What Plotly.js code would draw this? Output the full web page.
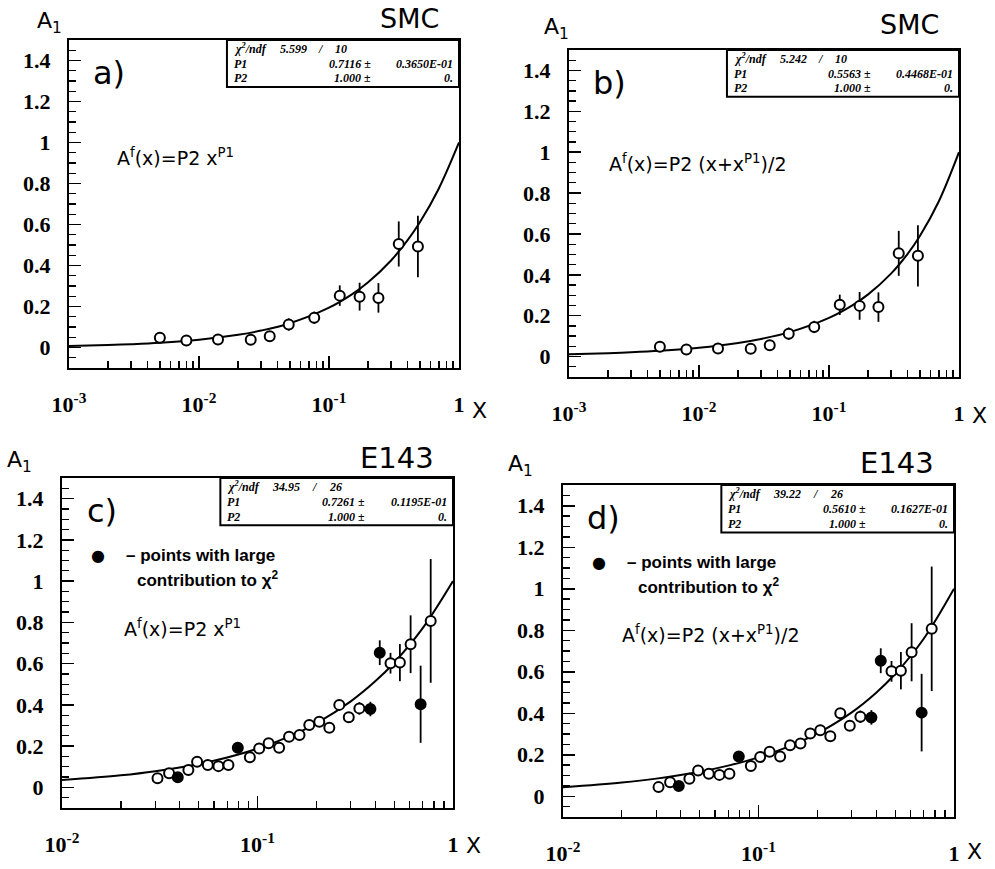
<!DOCTYPE html>
<html><head><meta charset="utf-8">
<script src="https://cdn.plot.ly/plotly-3.0.1.min.js"></script>
<style>html,body{margin:0;padding:0;background:#fff}#chart{width:995px;height:869px}</style>
</head><body><div id="chart"></div>
<script>
// ---------- SMC data (panels a, b) ----------
const smcX   = [0.005, 0.008, 0.014, 0.025, 0.035, 0.049, 0.077, 0.121, 0.172, 0.240, 0.344, 0.483];
const smcY   = [0.048, 0.034, 0.039, 0.038, 0.055, 0.112, 0.145, 0.253, 0.248, 0.242, 0.505, 0.493];
const smcErr = [0.012, 0.010, 0.010, 0.015, 0.022, 0.030, 0.030, 0.050, 0.068, 0.072, 0.110, 0.150];

// ---------- E143 data (panels c, d) ----------
const e143OpenX   = [0.0308, 0.0353, 0.0443, 0.0491, 0.0557, 0.0631, 0.0710, 0.0914, 0.102, 0.114, 0.129, 0.145, 0.164, 0.184, 0.207, 0.233, 0.262, 0.293, 0.332, 0.479, 0.535, 0.607, 0.769];
const e143OpenY   = [0.044, 0.068, 0.084, 0.124, 0.108, 0.103, 0.108, 0.146, 0.189, 0.214, 0.192, 0.246, 0.254, 0.302, 0.318, 0.289, 0.400, 0.340, 0.383, 0.602, 0.605, 0.694, 0.807];
const e143OpenErr = [0.010, 0.010, 0.010, 0.010, 0.010, 0.010, 0.010, 0.010, 0.010, 0.012, 0.012, 0.015, 0.015, 0.015, 0.020, 0.020, 0.020, 0.025, 0.030, 0.050, 0.090, 0.140, 0.300];
const e143FullX   = [0.0391, 0.0793, 0.378, 0.422, 0.683];
const e143FullY   = [0.049, 0.192, 0.380, 0.653, 0.403];
const e143FullErr = [0.010, 0.010, 0.035, 0.060, 0.187];

// ---------- fit curves ----------
const fitSmcX = [0.001, 0.002, 0.003, 0.005, 0.01, 0.02, 0.03, 0.05, 0.1, 0.15, 0.2, 0.3, 0.4, 0.5, 0.7, 1.0];
const fitAY   = [0.0073, 0.0120, 0.0160, 0.0230, 0.0377, 0.0618, 0.0825, 0.1186, 0.1943, 0.2593, 0.3181, 0.4245, 0.5210, 0.6107, 0.7758, 1.0];
const fitBY   = [0.0112, 0.0168, 0.0213, 0.0288, 0.0436, 0.0667, 0.0861, 0.1195, 0.1889, 0.2490, 0.3043, 0.4059, 0.5004, 0.5900, 0.7600, 1.0];
const fitE143X = [0.01, 0.02, 0.03, 0.05, 0.07, 0.1, 0.15, 0.2, 0.3, 0.4, 0.5, 0.7, 1.0];
const fitCY    = [0.0353, 0.0584, 0.0784, 0.1136, 0.1450, 0.1879, 0.2522, 0.3108, 0.4172, 0.5141, 0.6045, 0.7718, 1.0];
const fitDY    = [0.0428, 0.0657, 0.0849, 0.1182, 0.1475, 0.1874, 0.2475, 0.3027, 0.4045, 0.4991, 0.5890, 0.7593, 1.0];

// ---------- tick labels ----------
const yTickVals = [0, 0.2, 0.4, 0.6, 0.8, 1, 1.2, 1.4];
const yTickText = ['0', '0.2', '0.4', '0.6', '0.8', '1', '1.2', '1.4'];
const xTickValsSmc = [0.001, 0.01, 0.1, 1];
const xTickTextSmc = ['10<sup>-3</sup>', '10<sup>-2</sup>', '10<sup>-1</sup>', '1'];
const xTickValsE143 = [0.01, 0.1, 1];
const xTickTextE143 = ['10<sup>-2</sup>', '10<sup>-1</sup>', '1'];

// ---------- stat boxes and texts ----------
const panelLetters = ['a)', 'b)', 'c)', 'd)'];
const expTitles = ['SMC', 'SMC', 'E143', 'E143'];
const chi2 = ['5.599', '5.242', '34.95', '39.22'];
const ndf = ['10', '10', '26', '26'];
const p1 = ['0.7116', '0.5563', '0.7261', '0.5610'];
const p1err = ['0.3650E-01', '0.4468E-01', '0.1195E-01', '0.1627E-01'];
const p2 = ['1.000', '1.000', '1.000', '1.000'];
const p2err = ['0.', '0.', '0.', '0.'];
const formulas = ['A<sup>f</sup>(x)=P2 x<sup>P1</sup>', 'A<sup>f</sup>(x)=P2 (x+x<sup>P1</sup>)/2',
                  'A<sup>f</sup>(x)=P2 x<sup>P1</sup>', 'A<sup>f</sup>(x)=P2 (x+x<sup>P1</sup>)/2'];

const W = 995, H = 869;
const BLACK = '#000';
const SANS = 'DejaVu Sans';
const SERIF = 'Liberation Serif';

function logMinor(lo, hi) {
  const v = [];
  for (let e = lo; e < hi; e++) for (let m = 2; m <= 9; m++) v.push(m * Math.pow(10, e));
  return v;
}

function xAxis(dom, rng, tv, tt, minor, anchor) {
  return {
    type: 'log', domain: dom, range: rng, anchor: anchor,
    tickmode: 'array', tickvals: tv, ticktext: tt,
    ticks: 'inside', ticklen: 12, tickwidth: 1.5, tickcolor: BLACK,
    minor: {tickmode: 'array', tickvals: minor, ticks: 'inside', ticklen: 7, tickwidth: 1.3, tickcolor: BLACK, showgrid: false},
    showline: true, linewidth: 2, linecolor: BLACK, mirror: true,
    showgrid: false, zeroline: false, fixedrange: true,
    tickfont: {family: SERIF, size: 22, weight: 'bold', color: BLACK},
    ticklabelstandoff: 16
  };
}
function yAxis(dom, anchor) {
  return {
    domain: dom, range: [-0.1, 1.5], anchor: anchor,
    tickmode: 'array', tickvals: yTickVals, ticktext: yTickText,
    ticks: 'inside', ticklen: 12, tickwidth: 1.5, tickcolor: BLACK,
    minor: {dtick: 0.05, tick0: 0, ticks: 'inside', ticklen: 7, tickwidth: 1.3, tickcolor: BLACK, showgrid: false},
    showline: true, linewidth: 2, linecolor: BLACK, mirror: true,
    showgrid: false, zeroline: false, fixedrange: true,
    tickfont: {family: SERIF, size: 22, weight: 'bold', color: BLACK},
    ticklabelstandoff: 12
  };
}

// panel frames in pixels: [left, right, top, bottom]
const frames = [[69, 459, 40, 368], [569, 959, 50, 377], [62, 453, 478, 808], [563, 954, 485, 817]];
const dx = f => [f[0] / W, f[1] / W];
const dy = f => [1 - f[3] / H, 1 - f[2] / H];

const layout = {
  width: W, height: H, margin: {l: 0, r: 0, t: 0, b: 0},
  paper_bgcolor: '#fff', plot_bgcolor: '#fff', showlegend: false,
  xaxis:  xAxis(dx(frames[0]), [-3, 0], xTickValsSmc, xTickTextSmc, logMinor(-3, 0), 'y'),
  yaxis:  yAxis(dy(frames[0]), 'x'),
  xaxis2: xAxis(dx(frames[1]), [-3, 0], xTickValsSmc, xTickTextSmc, logMinor(-3, 0), 'y2'),
  yaxis2: yAxis(dy(frames[1]), 'x2'),
  xaxis3: xAxis(dx(frames[2]), [-2, 0], xTickValsE143, xTickTextE143, logMinor(-2, 0), 'y3'),
  yaxis3: yAxis(dy(frames[2]), 'x3'),
  xaxis4: xAxis(dx(frames[3]), [-2, 0], xTickValsE143, xTickTextE143, logMinor(-2, 0), 'y4'),
  yaxis4: yAxis(dy(frames[3]), 'x4'),
  shapes: [], annotations: []
};

const axIds = [['x', 'y'], ['x2', 'y2'], ['x3', 'y3'], ['x4', 'y4']];
const traces = [];

function curve(xs, ys, k) {
  traces.push({x: xs, y: ys, xaxis: axIds[k][0], yaxis: axIds[k][1], type: 'scatter', mode: 'lines',
    line: {color: BLACK, width: 2, shape: 'spline'}, hoverinfo: 'skip'});
}
function points(xs, ys, es, k, filled) {
  traces.push({x: xs, y: ys, xaxis: axIds[k][0], yaxis: axIds[k][1], type: 'scatter', mode: 'markers',
    error_y: {type: 'data', array: es, visible: true, color: BLACK, thickness: 1.8, width: 0},
    marker: {symbol: 'circle', size: 10, color: filled ? BLACK : '#fff', line: {color: BLACK, width: 2}}});
}

curve(fitSmcX, fitAY, 0); points(smcX, smcY, smcErr, 0, false);
curve(fitSmcX, fitBY, 1); points(smcX, smcY, smcErr, 1, false);
curve(fitE143X, fitCY, 2); points(e143OpenX, e143OpenY, e143OpenErr, 2, false); points(e143FullX, e143FullY, e143FullErr, 2, true);
curve(fitE143X, fitDY, 3); points(e143OpenX, e143OpenY, e143OpenErr, 3, false); points(e143FullX, e143FullY, e143FullErr, 3, true);

function ann(text, x, y, font, xanchor, yanchor) {
  layout.annotations.push({text: text, x: x / W, y: 1 - y / H, xref: 'paper', yref: 'paper',
    xanchor: xanchor || 'center', yanchor: yanchor || 'middle', showarrow: false, font: font});
}
function dann(k, text, fx, fy, font, xanchor) {
  layout.annotations.push({text: text, x: fx, y: fy, xref: axIds[k][0] + ' domain', yref: axIds[k][1] + ' domain',
    xanchor: xanchor, yanchor: 'middle', showarrow: false, font: font});
}

const statFont = {family: SERIF, size: 12, weight: 'bold', style: 'italic', color: BLACK};
const letterFont = {family: SANS, size: 32, color: BLACK};
const formulaFont = {family: SANS, size: 19, color: BLACK};
const axFont = {family: SANS, size: 22, color: BLACK};
const legFont = {family: 'Liberation Sans', size: 17, weight: 'bold', color: BLACK};

// per-panel text offsets relative to the frame (pixels)
const aLabelPos  = [[-20, -18], [-13, -22], [-43, -16], [-43, -19]];
const titlePos   = [[-50, -22], [-50, -25], [-56, -20], [-57, -22]];
const formulaPos = [[46, 117], [38, 113], [60, 150], [57, 149]];
const xLabelPos  = [[20, 42], [20, 38], [20, 37], [20, 34]];

for (let k = 0; k < 4; k++) {
  const f = frames[k];
  // stat box
  layout.shapes.push({type: 'rect', xref: axIds[k][0] + ' domain', yref: axIds[k][1] + ' domain',
    x0: 0.405, x1: 1, y0: 0.857, y1: 1, line: {color: BLACK, width: 2}, fillcolor: '#fff', layer: 'above'});
  dann(k, 'χ<sup>2</sup>/ndf', 0.418, 0.973, statFont, 'left');
  dann(k, chi2[k], 0.615, 0.973, statFont, 'right');
  dann(k, '/', 0.647, 0.973, statFont, 'center');
  dann(k, ndf[k], 0.677, 0.973, statFont, 'left');
  dann(k, 'P1', 0.418, 0.928, statFont, 'left');
  dann(k, p1[k] + ' ±', 0.78, 0.928, statFont, 'right');
  dann(k, p1err[k], 0.99, 0.928, statFont, 'right');
  dann(k, 'P2', 0.418, 0.883, statFont, 'left');
  dann(k, p2[k] + ' ±', 0.78, 0.883, statFont, 'right');
  dann(k, p2err[k], 0.99, 0.883, statFont, 'right');
  // y label, title, panel letter, x label
  ann('A<sub>1</sub>', f[0] + aLabelPos[k][0], f[2] + aLabelPos[k][1], axFont);
  ann(expTitles[k], f[1] + titlePos[k][0], f[2] + titlePos[k][1], {family: SANS, size: k < 2 ? 27 : 29, color: BLACK});
  ann(panelLetters[k], f[0] + 40, f[2] + 33, letterFont);
  ann('X', f[1] + xLabelPos[k][0], f[3] + xLabelPos[k][1], axFont);
  // formula
  ann(formulas[k], f[0] + formulaPos[k][0], f[2] + formulaPos[k][1], formulaFont, 'left');
  if (k >= 2) {
    ann('●', f[0] + 36, f[2] + 77, {family: SANS, size: 16, color: BLACK});
    ann('– points with large', f[0] + 62, f[2] + 77, legFont, 'left');
    ann('contribution to χ<sup>2</sup>', f[0] + 73, f[2] + 101, legFont, 'left');
  }
}

Plotly.newPlot('chart', traces, layout, {staticPlot: true, displayModeBar: false});
</script>
</body></html>
